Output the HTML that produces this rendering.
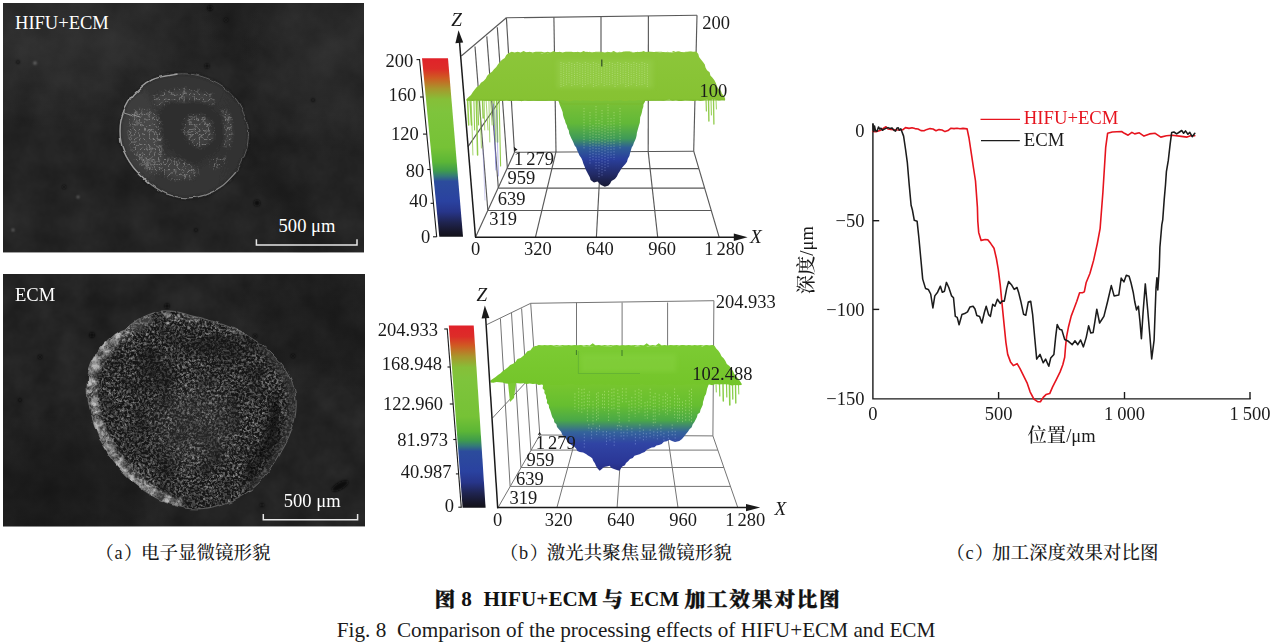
<!DOCTYPE html>
<html lang="zh"><head><meta charset="utf-8"><title>Fig. 8</title>
<style>
html,body{margin:0;padding:0;background:#fff;}
body{width:1274px;height:643px;overflow:hidden;position:relative;}
svg{position:absolute;left:0;top:0;display:block;font-family:'Liberation Serif','Noto Serif CJK SC',serif;}
text{white-space:pre;}
</style></head><body>
<svg width="1274" height="643" viewBox="0 0 1274 643">
<defs>

<filter id="bgNoise" x="0" y="0" width="100%" height="100%" color-interpolation-filters="sRGB">
  <feTurbulence type="fractalNoise" baseFrequency="0.03" numOctaves="4" seed="3" result="n"/>
  <feColorMatrix in="n" type="matrix" values="0.08 0 0 0 0.10  0.08 0 0 0 0.10  0.08 0 0 0 0.10  0 0 0 0 1"/>
  <feComposite operator="in" in2="SourceGraphic"/>
</filter>
<filter id="bgNoise2" x="0" y="0" width="100%" height="100%" color-interpolation-filters="sRGB">
  <feTurbulence type="fractalNoise" baseFrequency="0.035" numOctaves="4" seed="14" result="n"/>
  <feColorMatrix in="n" type="matrix" values="0.08 0 0 0 0.098  0.08 0 0 0 0.098  0.08 0 0 0 0.098  0 0 0 0 1"/>
  <feComposite operator="in" in2="SourceGraphic"/>
</filter>
<!-- bright wiggly veins confined to the source shape -->
<filter id="veins" x="-5%" y="-5%" width="110%" height="110%" color-interpolation-filters="sRGB">
  <feTurbulence type="turbulence" baseFrequency="0.2" numOctaves="2" seed="7" result="n"/>
  <feColorMatrix in="n" type="matrix" values="0 0 0 0 0.66  0 0 0 0 0.66  0 0 0 0 0.66  -5 0 0 0 1.0" result="v"/>
  <feGaussianBlur in="SourceGraphic" stdDeviation="1.6" result="soft"/>
  <feComposite in="v" in2="soft" operator="in"/>
</filter>
<!-- rough texture for the ECM crater -->
<filter id="rough2" x="0" y="0" width="100%" height="100%" color-interpolation-filters="sRGB">
  <feTurbulence type="fractalNoise" baseFrequency="0.40" numOctaves="2" seed="21" result="n"/>
  <feColorMatrix in="n" type="matrix" values="0.9 0 0 0 -0.375  0.9 0 0 0 -0.375  0.9 0 0 0 -0.375  0 0 0 0 1" result="g"/>
  <feTurbulence type="fractalNoise" baseFrequency="0.045" numOctaves="2" seed="5" result="c"/>
  <feColorMatrix in="c" type="matrix" values="2.2 0 0 0 -0.35  2.2 0 0 0 -0.35  2.2 0 0 0 -0.35  0 0 0 0 1" result="cm"/>
  <feComposite in="g" in2="cm" operator="arithmetic" k1="1.0" k2="0.35" k3="0" k4="0.095" result="m"/>
  <feComposite in="m" in2="SourceGraphic" operator="in"/>
</filter>
<filter id="veins2" x="0" y="0" width="100%" height="100%" color-interpolation-filters="sRGB">
  <feTurbulence type="turbulence" baseFrequency="0.2" numOctaves="2" seed="33" result="n"/>
  <feColorMatrix in="n" type="matrix" values="0 0 0 0 0.85  0 0 0 0 0.85  0 0 0 0 0.85  -8 0 0 0 1.0" result="v"/>
  <feComposite in="v" in2="SourceGraphic" operator="in"/>
</filter>
<filter id="wobble1" x="-5%" y="-5%" width="110%" height="110%">
  <feTurbulence type="fractalNoise" baseFrequency="0.09" numOctaves="2" seed="12" result="w"/>
  <feDisplacementMap in="SourceGraphic" in2="w" scale="3.5" xChannelSelector="R" yChannelSelector="G"/>
</filter>
<filter id="wobble" x="-5%" y="-5%" width="110%" height="110%">
  <feTurbulence type="fractalNoise" baseFrequency="0.07" numOctaves="2" seed="4" result="w"/>
  <feDisplacementMap in="SourceGraphic" in2="w" scale="5" xChannelSelector="R" yChannelSelector="G"/>
</filter>
<filter id="rimtex" x="-5%" y="-5%" width="110%" height="110%" color-interpolation-filters="sRGB">
  <feTurbulence type="fractalNoise" baseFrequency="0.14" numOctaves="3" seed="9" result="n"/>
  <feColorMatrix in="n" type="matrix" values="0 0 0 0 0.85  0 0 0 0 0.85  0 0 0 0 0.85  3.2 0 0 0 -1.25" result="v"/>
  <feGaussianBlur in="SourceGraphic" stdDeviation="1.5" result="soft"/>
  <feComposite in="v" in2="soft" operator="in"/>
</filter>
<filter id="blur2"><feGaussianBlur stdDeviation="2"/></filter>
<filter id="blur3"><feGaussianBlur stdDeviation="3"/></filter>
<filter id="blur4"><feGaussianBlur stdDeviation="4"/></filter>
<filter id="blur8" x="-30%" y="-30%" width="160%" height="160%"><feGaussianBlur stdDeviation="9"/></filter>
<filter id="blur1"><feGaussianBlur stdDeviation="0.8"/></filter>
<filter id="blur05"><feGaussianBlur stdDeviation="0.5"/></filter>

<linearGradient id="cbar" x1="0" y1="0" x2="0" y2="1">
  <stop offset="0" stop-color="#e0222a"/>
  <stop offset="0.06" stop-color="#dd2c28"/>
  <stop offset="0.11" stop-color="#cf5a22"/>
  <stop offset="0.17" stop-color="#a8962c"/>
  <stop offset="0.23" stop-color="#86bf38"/>
  <stop offset="0.30" stop-color="#7ec43c"/>
  <stop offset="0.50" stop-color="#76c236"/>
  <stop offset="0.58" stop-color="#5cb636"/>
  <stop offset="0.63" stop-color="#3f9c4c"/>
  <stop offset="0.66" stop-color="#347a78"/>
  <stop offset="0.69" stop-color="#2c4c9c"/>
  <stop offset="0.80" stop-color="#2a42a0"/>
  <stop offset="0.86" stop-color="#27358a"/>
  <stop offset="0.92" stop-color="#1f2450"/>
  <stop offset="0.97" stop-color="#17172a"/>
  <stop offset="1" stop-color="#121218"/>
</linearGradient>
<linearGradient id="pit1" gradientUnits="userSpaceOnUse" x1="0" y1="98" x2="0" y2="188">
  <stop offset="0" stop-color="#7fc236"/>
  <stop offset="0.28" stop-color="#62b838"/>
  <stop offset="0.45" stop-color="#3f9a58"/>
  <stop offset="0.55" stop-color="#2f5e96"/>
  <stop offset="0.68" stop-color="#2a3f9c"/>
  <stop offset="0.85" stop-color="#222a66"/>
  <stop offset="1" stop-color="#16172c"/>
</linearGradient>
<linearGradient id="pit2" gradientUnits="userSpaceOnUse" x1="0" y1="383" x2="0" y2="472">
  <stop offset="0" stop-color="#78c62e"/>
  <stop offset="0.25" stop-color="#66be30"/>
  <stop offset="0.42" stop-color="#4aa848"/>
  <stop offset="0.55" stop-color="#34649a"/>
  <stop offset="0.68" stop-color="#3044a4"/>
  <stop offset="0.9" stop-color="#2a3696"/>
  <stop offset="1" stop-color="#252c7c"/>
</linearGradient>
<linearGradient id="surf1" gradientUnits="userSpaceOnUse" x1="0" y1="51" x2="0" y2="101">
  <stop offset="0" stop-color="#8cc63a"/>
  <stop offset="1" stop-color="#86c232"/>
</linearGradient>
<linearGradient id="surf2" gradientUnits="userSpaceOnUse" x1="0" y1="345" x2="0" y2="385">
  <stop offset="0" stop-color="#7ccb33"/>
  <stop offset="1" stop-color="#74c52a"/>
</linearGradient>
<radialGradient id="darkR"><stop offset="0" stop-color="#101010" stop-opacity="0.55"/><stop offset="0.5" stop-color="#101010" stop-opacity="0.3"/><stop offset="1" stop-color="#101010" stop-opacity="0"/></radialGradient>
<radialGradient id="liteR"><stop offset="0" stop-color="#4a4a4a" stop-opacity="0.4"/><stop offset="0.5" stop-color="#4a4a4a" stop-opacity="0.2"/><stop offset="1" stop-color="#4a4a4a" stop-opacity="0"/></radialGradient>
<clipPath id="sem1"><rect x="3" y="3" width="361" height="249.5"/></clipPath>
<clipPath id="sem2"><rect x="3" y="274" width="362" height="252.5"/></clipPath>
<clipPath id="blob2c"><path d="M155.6,312 C168,309 180,312 190,315.4 C206,319 221,323 234.3,329 C252,337 268,348 279,361.6 C289,374 295,386 296,399 C297.5,418 291,436 282,450.6 C275,464 266,477 255,486.6 C240,499 220,507 200,508.8 C178,510 156,500 138.5,486.6 C124,475 112,462 104,447 C94,428 87,406 87,385.6 C87,364 98,348 110,338 C116,332 120,331 124.8,329 C134,321 144,315 155.6,312 Z"/></clipPath><clipPath id="circ1c"><path d="M177.6,74.0 C185.6,73.4 192.6,74.0 200.0,76.0 C207.4,78.0 215.7,81.4 222.0,85.7 C228.3,90.0 233.7,95.4 238.0,102.0 C242.3,108.6 245.9,119.0 247.6,125.3 C249.3,131.6 248.4,135.3 248.0,140.0 C247.6,144.7 247.3,148.0 245.3,153.3 C243.3,158.6 239.9,166.6 236.0,172.0 C232.1,177.4 227.2,182.2 222.0,186.0 C216.8,189.8 210.8,193.0 205.0,195.0 C199.2,197.0 193.3,198.0 187.0,197.8 C180.7,197.6 173.2,196.4 167.0,194.0 C160.8,191.6 155.4,188.1 149.7,183.6 C144.0,179.1 137.6,173.2 133.0,167.0 C128.4,160.8 124.1,153.2 122.0,146.3 C119.9,139.4 119.8,131.7 120.3,125.3 C120.8,118.9 122.8,113.0 125.0,108.0 C127.2,103.0 128.8,99.7 133.3,95.0 C137.8,90.3 144.6,83.3 152.0,79.8 C159.4,76.3 169.6,74.6 177.6,74.0 Z"/></clipPath></defs>

<g clip-path="url(#sem1)">
  <rect x="3" y="3" width="361" height="249.5" fill="#292929"/>
  <rect x="3" y="3" width="361" height="249.5" filter="url(#bgNoise)"/>
  <!-- large soft shading -->
  <ellipse cx="70" cy="40" rx="150" ry="90" fill="url(#liteR)" opacity="0.8"/>
  <ellipse cx="288" cy="200" rx="26" ry="85" fill="url(#darkR)" opacity="0.85" transform="rotate(-24 288 200)"/>
  <ellipse cx="232" cy="22" rx="30" ry="45" fill="url(#darkR)" opacity="0.5" transform="rotate(-24 232 22)"/>
  <ellipse cx="330" cy="60" rx="90" ry="100" fill="url(#liteR)" opacity="0.6"/>
  <!-- crater -->
  <g filter="url(#wobble1)">
  <path d="M177.6,74.0 C185.6,73.4 192.6,74.0 200.0,76.0 C207.4,78.0 215.7,81.4 222.0,85.7 C228.3,90.0 233.7,95.4 238.0,102.0 C242.3,108.6 245.9,119.0 247.6,125.3 C249.3,131.6 248.4,135.3 248.0,140.0 C247.6,144.7 247.3,148.0 245.3,153.3 C243.3,158.6 239.9,166.6 236.0,172.0 C232.1,177.4 227.2,182.2 222.0,186.0 C216.8,189.8 210.8,193.0 205.0,195.0 C199.2,197.0 193.3,198.0 187.0,197.8 C180.7,197.6 173.2,196.4 167.0,194.0 C160.8,191.6 155.4,188.1 149.7,183.6 C144.0,179.1 137.6,173.2 133.0,167.0 C128.4,160.8 124.1,153.2 122.0,146.3 C119.9,139.4 119.8,131.7 120.3,125.3 C120.8,118.9 122.8,113.0 125.0,108.0 C127.2,103.0 128.8,99.7 133.3,95.0 C137.8,90.3 144.6,83.3 152.0,79.8 C159.4,76.3 169.6,74.6 177.6,74.0 Z" fill="#353535"/>
  <g clip-path="url(#circ1c)">
    <ellipse cx="138" cy="140" rx="22" ry="52" fill="#444" opacity="0.55" filter="url(#blur4)"/>
    <ellipse cx="236" cy="140" rx="14" ry="50" fill="#333" opacity="0.6" filter="url(#blur4)"/>
    <!-- darker inner C region -->
    <path d="M162,104 C172,96 196,96 210,104 C222,110 226,124 224,140 C222,152 214,160 204,160 C196,170 184,168 178,158 C166,150 158,136 158,122 C158,114 158,108 162,104 Z" fill="#2a2a2a" opacity="0.55" filter="url(#blur2)"/>
    <!-- debris masses (soft grey) -->
    <g fill="#505050" opacity="0.55" filter="url(#blur2)">
      <path d="M154,98 C168,88 198,88 213,98 L212,105 C198,98 170,98 158,108 Z"/>
      <path d="M132,114 C140,108 154,110 158,120 C162,132 158,146 164,158 C168,168 160,176 150,170 C138,162 130,146 130,130 Z"/>
      <path d="M162,162 C172,158 190,162 198,170 C196,180 176,182 166,175 Z"/>
      <path d="M186,122 C192,114 206,114 211,123 C214,134 211,144 202,146 C191,146 183,136 186,122 Z"/>
      <path d="M222,112 L228,112 C233,122 233,138 229,147 L223,145 C226,134 225,122 222,112 Z"/>
    </g>
    <!-- debris, rendered as bright wiggly veins -->
    <g opacity="0.55" filter="url(#blur05)">
      <path d="M152,96 C168,86 200,86 214,96 L214,106 C200,98 168,98 156,110 Z" filter="url(#veins)"/>
      <path d="M130,112 C140,106 156,108 160,118 C164,132 160,146 166,158 C170,170 160,178 148,172 C136,164 128,146 128,130 Z" filter="url(#veins)"/>
      <path d="M160,160 C172,156 190,160 200,170 C198,182 176,184 164,176 Z" filter="url(#veins)"/>
      <path d="M184,120 C190,112 206,112 212,122 C216,134 212,146 202,148 C190,148 180,136 184,120 Z" filter="url(#veins)"/>
      <path d="M220,110 L228,110 C234,122 234,138 230,148 L222,146 C226,134 224,122 220,110 Z" filter="url(#veins)"/>
      <path d="M210,160 L224,156 L226,164 L212,170 Z" filter="url(#veins)"/>
    </g>
  </g>
  <!-- rim -->
  <path d="M177.6,74.0 C185.6,73.4 192.6,74.0 200.0,76.0 C207.4,78.0 215.7,81.4 222.0,85.7 C228.3,90.0 233.7,95.4 238.0,102.0 C242.3,108.6 245.9,119.0 247.6,125.3 C249.3,131.6 248.4,135.3 248.0,140.0 C247.6,144.7 247.3,148.0 245.3,153.3 C243.3,158.6 239.9,166.6 236.0,172.0 C232.1,177.4 227.2,182.2 222.0,186.0 C216.8,189.8 210.8,193.0 205.0,195.0 C199.2,197.0 193.3,198.0 187.0,197.8 C180.7,197.6 173.2,196.4 167.0,194.0 C160.8,191.6 155.4,188.1 149.7,183.6 C144.0,179.1 137.6,173.2 133.0,167.0 C128.4,160.8 124.1,153.2 122.0,146.3 C119.9,139.4 119.8,131.7 120.3,125.3 C120.8,118.9 122.8,113.0 125.0,108.0 C127.2,103.0 128.8,99.7 133.3,95.0 C137.8,90.3 144.6,83.3 152.0,79.8 C159.4,76.3 169.6,74.6 177.6,74.0 Z" fill="none" stroke="#1c1c1c" stroke-width="3" opacity="0.35" filter="url(#blur1)"/>
  <path d="M177.6,74.0 C185.6,73.4 192.6,74.0 200.0,76.0 C207.4,78.0 215.7,81.4 222.0,85.7 C228.3,90.0 233.7,95.4 238.0,102.0 C242.3,108.6 245.9,119.0 247.6,125.3 C249.3,131.6 248.4,135.3 248.0,140.0 C247.6,144.7 247.3,148.0 245.3,153.3 C243.3,158.6 239.9,166.6 236.0,172.0 C232.1,177.4 227.2,182.2 222.0,186.0 C216.8,189.8 210.8,193.0 205.0,195.0 C199.2,197.0 193.3,198.0 187.0,197.8 C180.7,197.6 173.2,196.4 167.0,194.0 C160.8,191.6 155.4,188.1 149.7,183.6 C144.0,179.1 137.6,173.2 133.0,167.0 C128.4,160.8 124.1,153.2 122.0,146.3 C119.9,139.4 119.8,131.7 120.3,125.3 C120.8,118.9 122.8,113.0 125.0,108.0 C127.2,103.0 128.8,99.7 133.3,95.0 C137.8,90.3 144.6,83.3 152.0,79.8 C159.4,76.3 169.6,74.6 177.6,74.0 Z" fill="none" stroke="#5c5c5c" stroke-width="1"/>
  <path d="M177.6,74.0 C173.3,75.0 159.4,76.3 152.0,79.8 C144.6,83.3 137.8,90.3 133.3,95.0 C128.8,99.7 127.2,103.0 125.0,108.0 C122.8,113.0 120.8,118.9 120.3,125.3 C119.8,131.7 119.9,139.4 122.0,146.3 C124.1,153.2 128.4,160.8 133.0,167.0 C137.6,173.2 146.9,180.8 149.7,183.6 " fill="none" stroke="#9c9c9c" stroke-width="1.3" filter="url(#blur05)"/>
  <path d="M149.7,183.6 C152.6,185.3 160.8,191.6 167.0,194.0 C173.2,196.4 180.7,197.6 187.0,197.8 C193.3,198.0 199.2,197.0 205.0,195.0 C210.8,193.0 216.8,189.8 222.0,186.0 C227.2,182.2 233.7,174.3 236.0,172.0 " fill="none" stroke="#848484" stroke-width="1.1" filter="url(#blur05)"/>
  <path d="M124,112 L140,117" stroke="#aaa" stroke-width="0.8" fill="none"/>
  </g>
  <!-- specks -->
  <g fill="#111" filter="url(#blur1)">
    <circle cx="207" cy="66" r="2.2"/><circle cx="257" cy="203" r="3"/><circle cx="64" cy="187" r="1.8"/>
    <circle cx="196" cy="230" r="1.6"/><circle cx="313" cy="100" r="1.6"/><circle cx="18" cy="62" r="1.6"/>
    <circle cx="210" cy="8" r="2.5"/><circle cx="226" cy="20" r="1.8"/>
  </g>
  <g fill="#777" filter="url(#blur1)">
    <circle cx="35" cy="63" r="1.6"/><circle cx="78" cy="197" r="1.2"/><circle cx="13" cy="230" r="1.3"/>
  </g>
</g>

<path d="M256.4,239.2 V245 H357 V239.2" fill="none" stroke="#e6e6e6" stroke-width="1.5"/>
<text x="15" y="29.2" font-size="18.55" fill="#fff">HIFU+ECM</text>
<text x="278.6" y="232" font-size="18.55" fill="#fff">500 μm</text>

<g clip-path="url(#sem2)">
  <rect x="3" y="274" width="362" height="252.5" fill="#272727"/>
  <rect x="3" y="274" width="362" height="252.5" filter="url(#bgNoise2)"/>
  <ellipse cx="50" cy="490" rx="130" ry="80" fill="url(#darkR)"/>
  <ellipse cx="330" cy="320" rx="100" ry="75" fill="url(#darkR)" opacity="0.7"/>
  <g filter="url(#wobble)">
  <path d="M155.6,312 C168,309 180,312 190,315.4 C206,319 221,323 234.3,329 C252,337 268,348 279,361.6 C289,374 295,386 296,399 C297.5,418 291,436 282,450.6 C275,464 266,477 255,486.6 C240,499 220,507 200,508.8 C178,510 156,500 138.5,486.6 C124,475 112,462 104,447 C94,428 87,406 87,385.6 C87,364 98,348 110,338 C116,332 120,331 124.8,329 C134,321 144,315 155.6,312 Z" fill="#2b2b2b"/>
  <g clip-path="url(#blob2c)">
    <path d="M155.6,312 C168,309 180,312 190,315.4 C206,319 221,323 234.3,329 C252,337 268,348 279,361.6 C289,374 295,386 296,399 C297.5,418 291,436 282,450.6 C275,464 266,477 255,486.6 C240,499 220,507 200,508.8 C178,510 156,500 138.5,486.6 C124,475 112,462 104,447 C94,428 87,406 87,385.6 C87,364 98,348 110,338 C116,332 120,331 124.8,329 C134,321 144,315 155.6,312 Z" filter="url(#rough2)"/>
    <path d="M155.6,312 C168,309 180,312 190,315.4 C206,319 221,323 234.3,329 C252,337 268,348 279,361.6 C289,374 295,386 296,399 C297.5,418 291,436 282,450.6 C275,464 266,477 255,486.6 C240,499 220,507 200,508.8 C178,510 156,500 138.5,486.6 C124,475 112,462 104,447 C94,428 87,406 87,385.6 C87,364 98,348 110,338 C116,332 120,331 124.8,329 C134,321 144,315 155.6,312 Z" filter="url(#veins2)" opacity="0.13"/>
    <!-- right inner wall: smooth band + dark crescent -->
    <path d="M262,345 C284,366 294,388 293,408 C291,436 276,466 250,490" fill="none" stroke="#3a3a3a" stroke-width="10" opacity="0.55" filter="url(#blur2)"/>
    <path d="M276,396 C278,420 268,452 246,478" fill="none" stroke="#0c0c0c" stroke-width="13" opacity="0.6" filter="url(#blur3)"/>
    <!-- bright left rim -->
    <path d="M150,314 C112,332 87,360 87,386 C87,406 94,428 104,447 C112,462 124,475 138.5,486.6 C150,496 165,504 182,508" fill="none" stroke="#c8c8c8" stroke-width="17" opacity="0.22" filter="url(#blur2)"/>
    <path d="M128,326 C100,346 90,366 90,386 C90,406 97,428 107,446 C115,461 127,474 141,485 C152,494 166,501 180,505" fill="none" stroke="#fff" stroke-width="13" filter="url(#rimtex)" opacity="0.75"/>
    <path d="M160,314 C190,314 220,322 246,336" fill="none" stroke="#fff" stroke-width="8" filter="url(#rimtex)" opacity="0.4"/>
    <!-- dark regions -->
    <ellipse cx="150" cy="368" rx="14" ry="28" fill="#141414" opacity="0.40" filter="url(#blur4)"/>
    <ellipse cx="225" cy="348" rx="40" ry="12" fill="#141414" opacity="0.35" filter="url(#blur4)"/>
    <ellipse cx="195" cy="425" rx="38" ry="40" fill="#5a5a5a" opacity="0.20" filter="url(#blur8)"/>
  </g>
  <path d="M155.6,312 C168,309 180,312 190,315.4 C206,319 221,323 234.3,329 C252,337 268,348 279,361.6 C289,374 295,386 296,399 C297.5,418 291,436 282,450.6 C275,464 266,477 255,486.6 C240,499 220,507 200,508.8 C178,510 156,500 138.5,486.6 C124,475 112,462 104,447 C94,428 87,406 87,385.6 C87,364 98,348 110,338 C116,332 120,331 124.8,329 C134,321 144,315 155.6,312 Z" fill="none" stroke="#8a8a8a" stroke-width="0.8" opacity="0.7"/>
  </g>
  <g fill="#0c0c0c" filter="url(#blur1)">
    <circle cx="167" cy="306" r="2.5"/><circle cx="92" cy="335" r="2.6"/><circle cx="40" cy="357" r="2"/>
    <circle cx="255" cy="336" r="2"/><circle cx="293" cy="356" r="2"/><circle cx="20" cy="400" r="1.6"/>
    <ellipse cx="340" cy="486" rx="9" ry="3.5" transform="rotate(-30 340 486)"/>
    <circle cx="262" cy="505" r="1.8"/>
  </g>
</g>
<path d="M263.3,514 V519.8 H357.6 V514" fill="none" stroke="#e6e6e6" stroke-width="1.5"/>
<text x="15" y="300.9" font-size="18.55" fill="#fff">ECM</text>
<text x="283.8" y="507" font-size="18.55" fill="#fff">500 μm</text>
<g id="plot3d-1">
<g fill="none">
<line x1="461.3" y1="56" x2="506.4" y2="17.8" stroke="#585858" stroke-width="1.15"/>
<line x1="475" y1="46.5" x2="487.8" y2="210" stroke="#585858" stroke-width="1.15"/>
<line x1="486.8" y1="36.4" x2="498.3" y2="187.7" stroke="#585858" stroke-width="1.15"/>
<line x1="497.3" y1="27.3" x2="507.4" y2="168.5" stroke="#585858" stroke-width="1.15"/>
<line x1="506.4" y1="17.8" x2="514.5" y2="152.3" stroke="#585858" stroke-width="1.15"/>
<line x1="468" y1="146.6" x2="510.5" y2="85" stroke="#585858" stroke-width="1.15"/>
<line x1="506.4" y1="17.8" x2="697" y2="15.2" stroke="#585858" stroke-width="1.15"/>
<line x1="553.9" y1="17.2" x2="556" y2="151.9" stroke="#585858" stroke-width="1.15"/>
<line x1="601" y1="16.5" x2="601" y2="151.7" stroke="#585858" stroke-width="1.15"/>
<line x1="648.4" y1="15.9" x2="648.2" y2="151.4" stroke="#585858" stroke-width="1.15"/>
<line x1="697" y1="15.2" x2="693.7" y2="151.2" stroke="#585858" stroke-width="1.15"/>
<line x1="514.5" y1="152.3" x2="693.7" y2="151.2" stroke="#585858" stroke-width="1.15"/>
<line x1="475.5" y1="237.3" x2="514.5" y2="152.3" stroke="#585858" stroke-width="1.15"/>
<line x1="693.7" y1="151.2" x2="719.2" y2="237.3" stroke="#585858" stroke-width="1.15"/>
<line x1="507.4" y1="168.6" x2="698.9" y2="168.6" stroke="#585858" stroke-width="1.15"/>
<line x1="498.3" y1="188.1" x2="704.6" y2="188.1" stroke="#585858" stroke-width="1.15"/>
<line x1="487.8" y1="210.5" x2="711.3" y2="210.5" stroke="#585858" stroke-width="1.15"/>
<line x1="556" y1="151.6" x2="535.4" y2="237.3" stroke="#585858" stroke-width="1.15"/>
<line x1="601" y1="151.6" x2="596.4" y2="237.3" stroke="#585858" stroke-width="1.15"/>
<line x1="648.2" y1="151.6" x2="657.7" y2="237.3" stroke="#585858" stroke-width="1.15"/>
</g>
<g stroke-linecap="round" fill="none">
<line x1="467.6" y1="100" x2="468.7" y2="125" stroke="#86c63a" stroke-width="1.5" opacity="0.9"/><line x1="470.0" y1="100" x2="471.5" y2="125" stroke="#86c63a" stroke-width="1.5" opacity="0.9"/><line x1="471.2" y1="100" x2="472.9" y2="155" stroke="#86c63a" stroke-width="0.8" opacity="0.9"/><line x1="473.9" y1="100" x2="474.6" y2="130" stroke="#86c63a" stroke-width="1.1" opacity="0.9"/><line x1="476.3" y1="100" x2="477.6" y2="155" stroke="#86c63a" stroke-width="1.5" opacity="0.9"/><line x1="477.7" y1="100" x2="478.6" y2="125" stroke="#86c63a" stroke-width="1.1" opacity="0.9"/><line x1="479.8" y1="100" x2="481.4" y2="148" stroke="#86c63a" stroke-width="0.8" opacity="0.9"/><line x1="482.5" y1="100" x2="483.2" y2="118" stroke="#86c63a" stroke-width="1.5" opacity="0.9"/><line x1="484.2" y1="100" x2="484.7" y2="130" stroke="#86c63a" stroke-width="0.8" opacity="0.9"/><line x1="486.1" y1="100" x2="488.0" y2="130" stroke="#86c63a" stroke-width="0.8" opacity="0.9"/><line x1="488.9" y1="100" x2="489.8" y2="142" stroke="#86c63a" stroke-width="0.8" opacity="0.9"/><line x1="490.6" y1="100" x2="492.1" y2="125" stroke="#86c63a" stroke-width="0.8" opacity="0.9"/><line x1="493.1" y1="100" x2="493.9" y2="125" stroke="#86c63a" stroke-width="1.1" opacity="0.9"/><line x1="494.6" y1="100" x2="495.7" y2="142" stroke="#86c63a" stroke-width="0.8" opacity="0.9"/><line x1="496.7" y1="100" x2="497.6" y2="142" stroke="#86c63a" stroke-width="1.5" opacity="0.9"/><line x1="499.1" y1="100" x2="500.6" y2="166" stroke="#86c63a" stroke-width="1.1" opacity="0.9"/>
<line x1="493.5" y1="104" x2="496" y2="170" stroke="#6f6fd0" stroke-width="0.9" opacity="0.8"/>
<line x1="496.5" y1="110" x2="498.5" y2="176" stroke="#7a78d8" stroke-width="0.8" opacity="0.7"/>
<line x1="483" y1="150" x2="485" y2="200" stroke="#8c8ae0" stroke-width="0.7" opacity="0.6"/>
<line x1="706" y1="99" x2="706.4" y2="111" stroke="#86c63a" stroke-width="1.2" opacity="0.9"/>
<line x1="708.5" y1="99" x2="708.9" y2="121" stroke="#86c63a" stroke-width="1.4" opacity="0.9"/>
<line x1="711" y1="99" x2="711.4" y2="115" stroke="#86c63a" stroke-width="1.0" opacity="0.9"/>
<line x1="713.5" y1="99" x2="713.9" y2="124" stroke="#86c63a" stroke-width="1.3" opacity="0.9"/>
<line x1="716" y1="99" x2="716.4" y2="109" stroke="#86c63a" stroke-width="0.9" opacity="0.9"/>
</g>
<polygon points="558.3,99.0 558.8,101.7 559.6,104.4 560.7,107.0 561.7,109.6 562.7,112.2 563.0,115.0 563.8,117.7 564.9,120.2 565.6,122.9 566.9,125.4 567.4,128.1 568.8,130.6 569.2,133.4 570.3,136.0 571.4,138.5 572.6,140.8 573.6,143.1 574.6,145.5 576.2,147.6 577.0,150.0 578.3,152.7 579.5,155.5 581.3,157.9 582.5,160.7 583.3,163.6 584.6,166.4 585.6,169.3 587.0,172.0 588.3,174.6 589.8,177.2 590.6,180.0 594.0,182.5 597.5,181.5 601.0,185.0 604.8,186.8 608.5,185.5 610.2,183.4 611.5,181.0 614.9,178.9 616.9,176.4 618.3,173.6 620.0,171.0 621.4,168.4 623.3,166.2 625.4,164.1 627.0,161.7 627.8,158.7 629.4,156.0 630.1,153.0 631.0,150.0 631.7,147.5 633.1,145.3 633.9,142.8 635.0,140.5 636.0,138.0 636.6,135.5 636.9,132.8 637.6,130.3 638.3,127.7 639.0,125.2 639.8,122.7 640.0,120.0 640.2,117.3 641.2,114.7 642.0,112.1 642.4,109.5 643.3,106.9 643.5,104.2 644.9,101.7 645.2,99.0 642.6,99.0 640.1,99.4 637.5,98.8 635.0,99.2 632.4,99.3 629.9,99.0 627.3,99.4 624.8,99.3 622.2,98.6 619.6,98.8 617.1,99.5 614.5,98.7 612.0,99.5 609.4,99.2 606.9,98.6 604.3,98.9 601.8,99.2 599.2,99.1 596.6,99.1 594.1,99.4 591.5,98.5 589.0,99.4 586.4,99.1 583.9,98.8 581.3,99.1 578.7,98.5 576.2,99.3 573.6,98.5 571.1,98.6 568.5,98.8 566.0,98.6 563.4,99.1 560.9,98.7" fill="url(#pit1)"/>
<linearGradient id="dots1" gradientUnits="userSpaceOnUse" x1="0" y1="100" x2="0" y2="185"><stop offset="0" stop-color="#d4f0a0"/><stop offset="0.5" stop-color="#c8eaa0"/><stop offset="0.62" stop-color="#9db4ec"/><stop offset="1" stop-color="#8a96e0"/></linearGradient>
<g stroke="url(#dots1)" stroke-width="0.75" stroke-dasharray="1.2 1.6" opacity="0.6">
<line x1="584" y1="108" x2="584" y2="150"/>
<line x1="590" y1="112" x2="590" y2="165"/>
<line x1="596" y1="106" x2="596" y2="170"/>
<line x1="602" y1="110" x2="602" y2="176"/>
<line x1="608" y1="104" x2="608" y2="168"/>
<line x1="614" y1="112" x2="614" y2="160"/>
<line x1="620" y1="108" x2="620" y2="150"/>
<line x1="599" y1="120" x2="599" y2="178"/>
<line x1="605" y1="125" x2="605" y2="172"/>
<line x1="611" y1="118" x2="611" y2="158"/>
<line x1="593" y1="125" x2="593" y2="160"/>
</g>
<polygon points="508.6,53.0 511.6,52.6 514.7,53.0 517.7,52.7 520.7,53.0 523.7,53.1 526.8,52.2 529.8,52.1 532.8,53.3 535.8,52.4 538.9,52.4 541.9,53.4 544.9,52.7 548.0,53.2 551.0,52.6 554.0,52.8 557.0,52.1 560.1,52.8 563.1,53.1 566.1,52.6 569.2,52.9 572.2,52.7 575.2,51.9 578.2,52.8 581.3,52.5 584.3,52.1 587.3,51.7 590.3,52.9 593.4,52.3 596.4,52.6 599.4,52.8 602.5,52.5 605.5,52.8 608.5,52.1 611.5,52.6 614.6,52.1 617.6,52.7 620.6,52.6 623.6,51.5 626.7,51.5 629.7,51.6 632.7,52.7 635.8,51.9 638.8,52.1 641.8,51.7 644.8,51.9 647.9,51.7 650.9,51.7 653.9,52.0 656.9,51.9 660.0,52.4 663.0,52.0 666.0,52.3 669.1,52.2 672.1,52.4 675.1,51.9 678.1,51.2 681.2,52.1 684.2,52.2 687.2,52.1 690.2,51.6 693.3,51.8 696.3,51.5 698.3,53.9 699.1,57.0 701.0,59.5 703.0,61.9 704.8,64.4 705.5,67.6 707.0,70.3 709.6,72.3 710.4,75.5 712.5,77.8 714.4,80.3 715.8,83.0 716.9,86.0 718.3,88.7 720.9,90.8 721.9,93.8 724.1,96.0 725.2,99.0 725.0,100.2 721.9,99.9 718.8,100.5 715.8,99.7 712.7,99.6 709.6,100.3 706.5,99.6 703.5,100.6 700.4,100.9 697.3,100.2 694.2,101.0 691.2,100.8 688.1,100.5 685.0,100.2 681.9,100.9 678.8,101.1 675.8,99.9 672.7,100.7 669.6,99.8 666.5,99.9 663.5,100.7 660.4,100.6 657.3,100.5 654.2,100.4 651.2,100.4 648.1,100.5 645.0,100.6 641.9,100.4 638.8,100.0 635.7,100.6 632.6,100.7 629.5,100.3 626.4,101.0 623.3,100.9 620.2,99.9 617.1,100.6 614.0,100.5 610.9,101.3 607.8,100.7 604.7,100.5 601.6,101.3 598.6,100.4 595.5,100.4 592.4,101.2 589.3,100.4 586.2,100.6 583.1,100.3 580.0,100.8 576.9,100.3 573.8,100.3 570.7,101.3 567.6,101.2 564.5,100.4 561.4,100.0 558.3,100.6 555.2,100.9 552.2,100.6 549.1,100.5 546.1,100.8 543.0,100.8 540.0,100.8 536.9,100.7 533.8,100.4 530.8,100.8 527.7,100.7 524.7,100.1 521.6,101.2 518.6,100.4 515.5,100.2 512.4,100.8 509.4,100.9 506.3,100.1 503.3,100.8 500.2,100.9 497.2,100.6 494.1,100.2 491.1,101.0 488.0,100.7 484.9,100.7 481.9,100.0 478.8,100.5 475.8,99.9 472.7,100.9 469.7,100.6 466.6,100.4 466.4,99.2 468.7,97.0 471.0,94.9 472.7,92.2 474.6,89.7 476.6,87.3 479.1,85.4 480.9,82.7 483.6,81.0 485.7,78.7 487.2,75.8 489.4,73.6 492.0,71.8 494.0,69.3 496.3,67.1 497.9,64.4 499.8,61.9 502.1,59.7 504.7,57.9 506.3,55.1" fill="url(#surf1)"/>
<path d="M508.6,53.5 L511.6,51.7 L514.6,52.6 L517.6,51.7 L520.6,52.6 L523.6,50.9 L526.6,52.6 L529.6,51.7 L532.6,52.6 L535.6,51.7 L538.6,51.8 L541.6,51.7 L544.6,52.6 L547.6,51.7 L550.6,52.6 L553.6,50.9 L556.6,52.6 L559.6,51.7 L562.6,52.6 L565.6,51.7 L568.6,51.8 L571.6,51.7 L574.6,52.6 L577.6,51.7 L580.6,52.6 L583.6,50.9 L586.6,52.6 L589.6,51.7 L592.6,52.6 L595.6,51.7 L598.6,51.8 L601.6,51.7 L604.6,52.6 L607.6,51.7 L610.6,52.6 L613.6,50.9 L616.6,52.6 L619.6,51.7 L622.6,52.6 L625.6,51.7 L628.6,51.8 L631.6,51.7 L634.6,52.6 L637.6,51.7 L640.6,52.6 L643.6,50.9 L646.6,52.6 L649.6,51.7 L652.6,52.6 L655.6,51.7 L658.6,51.8 L661.6,51.7 L664.6,52.6 L667.6,51.7 L670.6,52.6 L673.6,50.9 L676.6,52.6 L679.6,51.7 L682.6,52.6 L685.6,51.7 L688.6,51.8 L691.6,51.7 L694.6,52.6 L696.3,52 Z" fill="#8cc63a"/>
<g opacity="0.55"><rect x="557" y="60" width="96" height="28" fill="#98cf4e" filter="url(#blur2)"/></g>
<g stroke="#e2f6c4" stroke-width="0.65" stroke-dasharray="0.9 1.3" opacity="0.6">
<line x1="561.0" y1="62" x2="561.0" y2="87"/>
<line x1="563.7" y1="63" x2="563.7" y2="86"/>
<line x1="566.4" y1="64" x2="566.4" y2="85"/>
<line x1="569.1" y1="62" x2="569.1" y2="84"/>
<line x1="571.8" y1="63" x2="571.8" y2="87"/>
<line x1="574.5" y1="64" x2="574.5" y2="86"/>
<line x1="577.2" y1="62" x2="577.2" y2="85"/>
<line x1="579.9" y1="63" x2="579.9" y2="84"/>
<line x1="582.6" y1="64" x2="582.6" y2="87"/>
<line x1="585.3" y1="62" x2="585.3" y2="86"/>
<line x1="588.0" y1="63" x2="588.0" y2="85"/>
<line x1="590.7" y1="64" x2="590.7" y2="84"/>
<line x1="593.4" y1="62" x2="593.4" y2="87"/>
<line x1="596.1" y1="63" x2="596.1" y2="86"/>
<line x1="598.8" y1="64" x2="598.8" y2="85"/>
<line x1="601.5" y1="62" x2="601.5" y2="84"/>
<line x1="604.2" y1="63" x2="604.2" y2="87"/>
<line x1="606.9" y1="64" x2="606.9" y2="86"/>
<line x1="609.6" y1="62" x2="609.6" y2="85"/>
<line x1="612.3" y1="63" x2="612.3" y2="84"/>
<line x1="615.0" y1="64" x2="615.0" y2="87"/>
<line x1="617.7" y1="62" x2="617.7" y2="86"/>
<line x1="620.4" y1="63" x2="620.4" y2="85"/>
<line x1="623.1" y1="64" x2="623.1" y2="84"/>
<line x1="625.8" y1="62" x2="625.8" y2="87"/>
<line x1="628.5" y1="63" x2="628.5" y2="86"/>
<line x1="631.2" y1="64" x2="631.2" y2="85"/>
<line x1="633.9" y1="62" x2="633.9" y2="84"/>
<line x1="636.6" y1="63" x2="636.6" y2="87"/>
<line x1="639.3" y1="64" x2="639.3" y2="86"/>
<line x1="642.0" y1="62" x2="642.0" y2="85"/>
<line x1="644.7" y1="63" x2="644.7" y2="84"/>
<line x1="647.4" y1="64" x2="647.4" y2="87"/>
</g>
<path d="M466.6,100.2 L558.3,100.4 L562,104 L642,104 L645,100.4 L725,100 " fill="none" stroke="#79b82c" stroke-width="1.2" opacity="0.8"/>
<rect x="601.2" y="59.5" width="1.2" height="7" fill="#2d4a25"/>
<g stroke="#1a1a1a" fill="#1a1a1a">
<line x1="475.5" y1="237.3" x2="459.5" y2="42" stroke-width="1.5"/>
<polygon points="458.5,30.3 455.4,43.3 463.2,42.6" stroke="none"/>
<line x1="475" y1="237.3" x2="735" y2="237.3" stroke-width="1.5"/>
<polygon points="747.6,237.3 733.8,233.6 733.8,241" stroke="none"/>
</g>
<polygon points="422,58.2 448,58.2 463,236.8 439.3,236.8" fill="url(#cbar)"/>
<g stroke="#1a1a1a" stroke-width="1.1">
<line x1="419.5" y1="59" x2="436.7" y2="237"/>
<line x1="416.5" y1="59.6" x2="419.6" y2="59.6"/>
<line x1="420" y1="97" x2="423.2" y2="97"/>
<line x1="423" y1="134.1" x2="426.8" y2="134.1"/>
<line x1="427.3" y1="169.5" x2="430.3" y2="169.5"/>
<line x1="430.6" y1="203.3" x2="433.6" y2="203.3"/>
<line x1="433" y1="236.8" x2="436.7" y2="236.8"/>
</g>
<g font-size="18.5" fill="#1a1a1a">
<text x="413.3" y="66.5" text-anchor="end">200</text>
<text x="416.3" y="101" text-anchor="end">160</text>
<text x="418.8" y="140.2" text-anchor="end">120</text>
<text x="424.3" y="177.2" text-anchor="end">80</text>
<text x="427.8" y="207.3" text-anchor="end">40</text>
<text x="430.2" y="242.7" text-anchor="end">0</text>
<text x="702.2" y="28.9">200</text><text x="699.4" y="96.6">100</text>
<text x="489.2" y="225.1">319</text>
<text x="497.7" y="204.5">639</text>
<text x="507.4" y="183.7">959</text>
<text x="513.9" y="164.5" word-spacing="-1.5">1 279</text>
<path d="M513.8,146.8 L517.6,149.8 L515.6,150.4 L514.6,152 Z" fill="#1a1a1a"/>
<text x="475.6" y="255.4" text-anchor="middle">0</text>
<text x="537.9" y="255.4" text-anchor="middle">320</text>
<text x="599.9" y="255.4" text-anchor="middle">640</text>
<text x="662.2" y="255.4" text-anchor="middle">960</text>
<text x="724.3" y="255.4" text-anchor="middle" word-spacing="-1.5">1 280</text>
<text x="451.2" y="26" font-style="italic" font-size="19.2">Z</text><text x="750" y="243" font-style="italic" font-size="19.2">X</text>
</g>
</g>
<g id="plot3d-2">
<g fill="none">
<line x1="486.8" y1="324.6" x2="530.7" y2="303.3" stroke="#747474" stroke-width="1.0"/>
<line x1="500.4" y1="318.5" x2="510.1" y2="486.4" stroke="#747474" stroke-width="1.0"/>
<line x1="511.5" y1="313" x2="520.9" y2="467.5" stroke="#747474" stroke-width="1.0"/>
<line x1="521.6" y1="308.4" x2="530.9" y2="450.1" stroke="#747474" stroke-width="1.0"/>
<line x1="530.7" y1="303.3" x2="539.8" y2="435" stroke="#747474" stroke-width="1.0"/>
<line x1="492.5" y1="418" x2="535.5" y2="372" stroke="#747474" stroke-width="1.0"/>
<line x1="530.7" y1="303.3" x2="713.9" y2="300.7" stroke="#747474" stroke-width="1.0"/>
<line x1="576.5" y1="302.5" x2="576.5" y2="435.5" stroke="#747474" stroke-width="1.0"/>
<line x1="622.1" y1="302.5" x2="622.1" y2="435.5" stroke="#747474" stroke-width="1.0"/>
<line x1="667.6" y1="302.5" x2="667.6" y2="435.5" stroke="#747474" stroke-width="1.0"/>
<line x1="713.9" y1="300.7" x2="712.9" y2="435.9" stroke="#747474" stroke-width="1.0"/>
<line x1="539.8" y1="435" x2="712.9" y2="435.9" stroke="#747474" stroke-width="1.0"/>
<line x1="497.7" y1="508.2" x2="539.8" y2="435" stroke="#747474" stroke-width="1.0"/>
<line x1="712.9" y1="435.9" x2="737.8" y2="507.6" stroke="#747474" stroke-width="1.0"/>
<line x1="530.9" y1="450.1" x2="717.8" y2="450.1" stroke="#747474" stroke-width="1.0"/>
<line x1="520.9" y1="467.5" x2="723.9" y2="467.5" stroke="#747474" stroke-width="1.0"/>
<line x1="510.1" y1="486.4" x2="730.4" y2="486.4" stroke="#747474" stroke-width="1.0"/>
<line x1="576.5" y1="435.5" x2="556.9" y2="507.6" stroke="#747474" stroke-width="1.0"/>
<line x1="622.1" y1="435.5" x2="617.1" y2="507.6" stroke="#747474" stroke-width="1.0"/>
<line x1="667.6" y1="435.5" x2="678" y2="507.6" stroke="#747474" stroke-width="1.0"/>
</g>
<g stroke="#7cc935" fill="none" stroke-linecap="round">
<path d="M508,383 L510,402 L514,398 L516,383 Z" fill="#7cc935" stroke="none"/>
<line x1="716" y1="384" x2="716.3" y2="392" stroke-width="1.0" opacity="0.9"/>
<line x1="719.5" y1="384" x2="719.8" y2="396" stroke-width="1.2" opacity="0.9"/>
<line x1="723" y1="384" x2="723.3" y2="401" stroke-width="1.5" opacity="0.9"/>
<line x1="726.5" y1="384" x2="726.8" y2="397" stroke-width="1.2" opacity="0.9"/>
<line x1="729.5" y1="384" x2="729.8" y2="405" stroke-width="1.6" opacity="0.9"/>
<line x1="732.5" y1="384" x2="732.8" y2="399" stroke-width="1.3" opacity="0.9"/>
<line x1="735.5" y1="384" x2="735.8" y2="403" stroke-width="1.4" opacity="0.9"/>
<line x1="738.5" y1="384" x2="738.8" y2="394" stroke-width="1.0" opacity="0.9"/>
</g>
<polygon points="541.9,383.0 543.0,385.4 542.6,388.2 544.5,390.4 544.4,393.1 545.9,395.3 546.0,398.0 547.1,400.3 546.9,403.0 548.8,405.1 549.0,407.7 550.1,410.0 550.9,412.5 551.6,414.9 552.4,417.3 553.9,419.5 554.3,422.3 556.4,424.3 557.0,427.0 559.1,429.4 561.1,431.8 562.3,434.7 564.5,436.8 566.2,439.3 567.6,442.0 570.0,444.0 572.1,445.5 574.3,446.8 576.1,448.6 577.4,451.0 579.8,452.1 583.1,452.5 586.0,454.0 588.0,455.6 590.2,456.7 592.2,458.3 593.3,461.0 594.9,463.3 596.0,466.0 597.6,468.6 599.7,470.8 601.8,468.9 604.0,467.0 606.8,466.6 609.6,465.8 611.5,467.9 614.0,469.0 616.8,470.0 619.6,470.8 620.8,468.5 622.3,466.5 624.9,465.3 626.0,463.0 628.1,461.2 630.0,459.1 632.8,458.1 634.5,455.8 637.0,455.0 639.6,454.2 642.0,453.0 644.7,451.9 646.8,449.7 649.4,448.4 651.7,447.4 654.4,447.2 656.4,445.4 659.0,445.0 661.7,444.0 663.9,441.8 666.8,441.3 669.3,439.7 672.0,441.1 675.0,442.0 679.3,440.9 682.0,439.0 684.1,436.6 686.0,434.0 687.9,431.7 689.5,429.2 691.7,427.2 692.6,424.4 694.4,422.1 695.7,419.6 697.0,417.0 697.6,414.3 699.9,412.4 700.5,409.7 701.7,407.3 702.8,404.7 703.0,401.9 703.9,399.2 704.5,396.4 706.0,394.0 706.6,391.2 707.2,388.4 708.2,385.7 709.1,383.0 706.6,383.2 704.0,382.5 701.5,382.5 699.0,383.5 696.4,383.1 693.9,383.5 691.4,382.8 688.8,382.3 686.3,383.4 683.8,382.6 681.2,383.3 678.7,383.7 676.2,382.6 673.6,383.2 671.1,383.5 668.6,383.1 666.0,383.4 663.5,383.1 661.0,383.1 658.4,383.1 655.9,382.9 653.4,383.3 650.8,383.6 648.3,383.6 645.8,383.6 643.2,383.0 640.7,383.2 638.2,382.6 635.6,383.0 633.1,382.7 630.6,382.3 628.0,383.6 625.5,383.7 623.0,383.5 620.4,383.2 617.9,382.9 615.4,382.7 612.8,383.2 610.3,382.3 607.8,383.7 605.2,382.5 602.7,383.4 600.2,382.5 597.6,383.7 595.1,382.3 592.6,382.6 590.0,382.3 587.5,382.9 585.0,383.5 582.4,382.3 579.9,383.1 577.4,383.6 574.8,382.9 572.3,383.0 569.8,383.0 567.2,383.5 564.7,383.5 562.2,382.9 559.6,383.1 557.1,383.5 554.6,383.1 552.0,382.7 549.5,382.7 547.0,383.0 544.4,383.1" fill="url(#pit2)"/>
<linearGradient id="dots2" gradientUnits="userSpaceOnUse" x1="0" y1="385" x2="0" y2="470"><stop offset="0" stop-color="#d4f4a0"/><stop offset="0.45" stop-color="#c8eea0"/><stop offset="0.6" stop-color="#a0b6f0"/><stop offset="1" stop-color="#8c9ae6"/></linearGradient>
<g stroke="url(#dots2)" stroke-width="0.75" stroke-dasharray="1.4 1.8" opacity="0.55">
<line x1="574.9" y1="393.2" x2="574.9" y2="410.0"/>
<line x1="578.7" y1="388.1" x2="578.7" y2="412.1"/>
<line x1="581.8" y1="389.1" x2="581.8" y2="414.2"/>
<line x1="584.2" y1="388.6" x2="584.2" y2="410.2"/>
<line x1="587.4" y1="394.3" x2="587.4" y2="422.8"/>
<line x1="589.3" y1="391.3" x2="589.3" y2="407.6"/>
<line x1="593.0" y1="400.9" x2="593.0" y2="426.7"/>
<line x1="596.5" y1="393.4" x2="596.5" y2="422.3"/>
<line x1="598.2" y1="392.1" x2="598.2" y2="419.6"/>
<line x1="602.5" y1="393.9" x2="602.5" y2="409.7"/>
<line x1="604.5" y1="390.9" x2="604.5" y2="410.6"/>
<line x1="608.6" y1="390.8" x2="608.6" y2="422.5"/>
<line x1="611.8" y1="388.8" x2="611.8" y2="410.3"/>
<line x1="614.0" y1="388.3" x2="614.0" y2="410.8"/>
<line x1="617.8" y1="389.6" x2="617.8" y2="415.5"/>
<line x1="619.2" y1="396.1" x2="619.2" y2="428.0"/>
<line x1="622.4" y1="388.1" x2="622.4" y2="403.8"/>
<line x1="626.1" y1="388.2" x2="626.1" y2="403.9"/>
<line x1="629.0" y1="400.9" x2="629.0" y2="423.3"/>
<line x1="631.8" y1="396.9" x2="631.8" y2="412.8"/>
<line x1="635.2" y1="390.4" x2="635.2" y2="416.6"/>
<line x1="638.9" y1="388.8" x2="638.9" y2="413.9"/>
<line x1="641.2" y1="390.1" x2="641.2" y2="409.5"/>
<line x1="645.0" y1="402.0" x2="645.0" y2="418.4"/>
<line x1="647.4" y1="401.3" x2="647.4" y2="420.0"/>
<line x1="650.2" y1="388.6" x2="650.2" y2="409.9"/>
<line x1="653.3" y1="396.3" x2="653.3" y2="425.8"/>
<line x1="655.2" y1="392.9" x2="655.2" y2="424.1"/>
<line x1="659.2" y1="394.3" x2="659.2" y2="416.4"/>
<line x1="663.0" y1="396.0" x2="663.0" y2="410.4"/>
<line x1="665.6" y1="392.6" x2="665.6" y2="415.3"/>
<line x1="667.4" y1="394.2" x2="667.4" y2="414.7"/>
<line x1="670.2" y1="396.8" x2="670.2" y2="412.9"/>
<line x1="674.6" y1="388.4" x2="674.6" y2="418.0"/>
<line x1="677.6" y1="395.0" x2="677.6" y2="423.2"/>
<line x1="679.5" y1="398.3" x2="679.5" y2="420.8"/>
<line x1="682.5" y1="401.5" x2="682.5" y2="423.5"/>
<line x1="685.7" y1="400.0" x2="685.7" y2="421.4"/>
<line x1="689.3" y1="390.4" x2="689.3" y2="421.3"/>
<line x1="691.5" y1="388.7" x2="691.5" y2="422.2"/>
<line x1="584.3" y1="433.5" x2="584.3" y2="448.9"/>
<line x1="588.8" y1="424.1" x2="588.8" y2="430.7"/>
<line x1="591.6" y1="427.9" x2="591.6" y2="440.0"/>
<line x1="596.7" y1="427.5" x2="596.7" y2="435.0"/>
<line x1="599.5" y1="425.4" x2="599.5" y2="432.2"/>
<line x1="603.1" y1="431.0" x2="603.1" y2="437.6"/>
<line x1="606.5" y1="431.0" x2="606.5" y2="444.7"/>
<line x1="610.0" y1="432.9" x2="610.0" y2="440.6"/>
<line x1="614.2" y1="431.7" x2="614.2" y2="446.5"/>
<line x1="617.4" y1="425.0" x2="617.4" y2="431.5"/>
<line x1="621.1" y1="425.7" x2="621.1" y2="438.0"/>
<line x1="623.8" y1="431.8" x2="623.8" y2="440.0"/>
<line x1="627.2" y1="425.8" x2="627.2" y2="436.3"/>
<line x1="631.9" y1="427.9" x2="631.9" y2="435.6"/>
<line x1="635.4" y1="433.5" x2="635.4" y2="444.8"/>
<line x1="639.9" y1="424.3" x2="639.9" y2="440.2"/>
<line x1="643.4" y1="429.4" x2="643.4" y2="440.7"/>
<line x1="646.3" y1="433.1" x2="646.3" y2="439.8"/>
<line x1="650.1" y1="429.4" x2="650.1" y2="438.4"/>
<line x1="653.8" y1="431.2" x2="653.8" y2="438.2"/>
<line x1="657.4" y1="428.5" x2="657.4" y2="439.4"/>
<line x1="660.9" y1="424.5" x2="660.9" y2="436.6"/>
<line x1="663.9" y1="432.8" x2="663.9" y2="441.1"/>
<line x1="668.4" y1="431.3" x2="668.4" y2="443.5"/>
<line x1="672.2" y1="424.4" x2="672.2" y2="436.3"/>
<line x1="675.2" y1="430.8" x2="675.2" y2="440.8"/>
</g>
<polygon points="535.2,346.0 538.2,345.7 541.3,345.5 544.3,345.9 547.4,345.6 550.4,345.5 553.4,345.9 556.5,346.5 559.5,346.3 562.6,346.3 565.6,345.6 568.6,346.0 571.7,345.7 574.7,345.6 577.7,345.5 580.8,345.6 583.8,346.5 586.9,346.3 589.9,346.3 592.9,346.3 596.0,345.6 599.0,345.7 602.1,346.1 605.1,346.2 608.1,346.3 611.2,346.4 614.2,345.4 617.3,346.0 620.3,346.1 623.3,345.9 626.4,345.5 629.4,345.9 632.4,345.4 635.5,346.4 638.5,346.3 641.6,345.9 644.6,345.6 647.6,346.4 650.7,346.0 653.7,346.3 656.8,346.3 659.8,345.9 662.8,345.8 665.9,346.0 668.9,345.8 672.0,345.4 675.0,345.6 678.0,346.2 681.1,345.3 684.1,345.3 687.1,346.0 690.2,345.6 693.2,345.9 696.3,345.8 699.3,345.6 702.3,346.4 705.4,345.4 708.4,345.7 711.5,345.4 714.5,345.8 716.2,348.4 718.4,350.7 720.1,353.3 721.5,356.2 723.8,358.4 725.4,361.1 726.8,363.9 729.4,365.9 731.3,368.4 733.0,371.1 734.3,374.0 736.2,376.4 738.4,378.7 740.1,381.3 741.8,384.0 741.5,385.0 738.3,385.3 735.0,385.0 731.8,385.4 728.5,384.6 725.3,384.3 722.1,384.2 718.8,384.4 715.6,384.1 712.3,385.2 709.1,384.6 706.1,384.9 703.0,384.0 700.0,384.3 696.9,384.7 693.9,384.1 690.9,384.5 687.8,384.2 684.8,384.8 681.7,385.0 678.7,384.7 675.7,385.0 672.6,384.7 669.6,384.0 666.5,384.8 663.5,385.2 660.5,385.1 657.4,385.0 654.4,384.3 651.3,384.8 648.3,384.9 645.3,385.1 642.2,384.0 639.2,384.7 636.1,385.0 633.1,385.1 630.1,385.1 627.0,385.0 624.0,384.4 620.9,385.0 617.9,385.2 614.9,384.6 611.8,384.9 608.8,384.0 605.7,385.1 602.7,384.6 599.7,384.3 596.6,384.7 593.6,384.0 590.5,384.6 587.5,384.9 584.5,384.7 581.4,385.2 578.4,384.7 575.3,384.9 572.3,384.1 569.3,384.2 566.2,384.6 563.2,385.2 560.1,384.9 557.1,384.9 554.1,385.0 551.0,384.9 548.0,384.2 544.9,385.0 541.9,384.6 538.8,385.0 535.9,383.8 532.8,384.1 529.8,383.5 526.7,384.1 523.7,383.3 520.7,383.5 517.7,383.2 514.6,383.1 511.6,383.3 508.6,383.7 505.5,383.4 502.5,382.5 499.5,382.3 496.5,382.1 493.4,382.7 490.4,382.4 490.4,380.6 493.0,378.8 495.6,377.0 498.0,375.0 500.6,373.2 502.9,371.0 505.4,369.2 508.0,367.3 510.1,365.0 513.1,363.7 515.6,361.8 517.5,359.1 520.6,358.0 523.1,356.0 525.4,353.8 527.4,351.3 530.5,350.2 532.4,347.6" fill="url(#surf2)"/>
<path d="M535.7,346.5 L538.7,344.9 L541.7,345.6 L544.7,344.9 L547.7,345.6 L550.7,344.9 L553.7,345.6 L556.7,344.9 L559.7,345.6 L562.7,344.9 L565.7,345.6 L568.7,344.9 L571.7,345.6 L574.7,344.9 L577.7,345.6 L580.7,344.9 L583.7,345.6 L586.7,344.9 L589.7,345.6 L592.7,343.3 L595.7,345.6 L598.7,344.9 L601.7,345.6 L604.7,344.9 L607.7,345.6 L610.7,344.9 L613.7,345.6 L616.7,344.9 L619.7,345.6 L622.7,344.9 L625.7,345.6 L628.7,344.9 L631.7,345.6 L634.7,344.9 L637.7,345.6 L640.7,344.9 L643.7,345.6 L646.7,343.3 L649.7,345.6 L652.7,344.9 L655.7,345.6 L658.7,343.3 L661.7,345.6 L664.7,344.9 L667.7,345.6 L670.7,344.9 L673.7,345.6 L676.7,344.9 L679.7,345.6 L682.7,344.9 L685.7,345.6 L688.7,344.9 L691.7,345.6 L694.7,344.9 L697.7,345.6 L700.7,344.9 L703.7,345.6 L706.7,344.9 L709.7,345.6 L712.7,344.9 L714.5,346.3 Z" fill="#7ccb33"/>
<g opacity="0.4"><rect x="581" y="354" width="95" height="18" fill="#8ad444" filter="url(#blur2)"/></g>
<path d="M578.4,351 V373.5 H640" fill="none" stroke="#4f9e36" stroke-width="0.7" opacity="0.65"/>
<rect x="575.9" y="350" width="1" height="5" fill="#3f7a2a"/><rect x="621.5" y="350" width="1" height="6" fill="#3f7a2a"/>
<g stroke="#1a1a1a" fill="#1a1a1a">
<line x1="497.7" y1="508.2" x2="485.6" y2="317" stroke-width="1.5"/>
<polygon points="484.8,305.4 481.6,318.6 489.4,318" stroke="none"/>
<line x1="497.2" y1="507.6" x2="748" y2="507.6" stroke-width="1.5"/>
<polygon points="760.2,507.6 746,503.9 746,511.3" stroke="none"/>
</g>
<polygon points="448.8,325.6 473.7,325.6 485.6,507.8 462.6,507.8" fill="url(#cbar)"/>
<g stroke="#1a1a1a" stroke-width="1.1">
<line x1="447.2" y1="328.5" x2="461.3" y2="507.8"/>
<line x1="444.2" y1="329" x2="447.3" y2="329"/>
<line x1="447.5" y1="367" x2="450.4" y2="367"/>
<line x1="449.8" y1="404" x2="453.1" y2="404"/>
<line x1="453.3" y1="439.5" x2="456.2" y2="439.5"/>
<line x1="455.9" y1="473.9" x2="458.8" y2="473.9"/>
<line x1="458.3" y1="507.2" x2="461.3" y2="507.2"/>
</g>
<g font-size="18.5" fill="#1a1a1a">
<text x="437.9" y="335.7" text-anchor="end">204.933</text>
<text x="441.9" y="370.4" text-anchor="end">168.948</text>
<text x="443" y="410.2" text-anchor="end">122.960</text>
<text x="448" y="446" text-anchor="end">81.973</text>
<text x="451.6" y="478" text-anchor="end">40.987</text>
<text x="454.1" y="512.3" text-anchor="end">0</text>
<text x="715.7" y="308.4">204.933</text><text x="692.3" y="379.7">102.488</text>
</g><g font-size="18.5" fill="#1a1a1a">
<text x="509.5" y="504.2">319</text>
<text x="516" y="484.6">639</text>
<text x="526.6" y="465.8">959</text>
<text x="535.7" y="448.6" word-spacing="-1.5">1 279</text>
<path d="M537.6,435.2 L539.6,432 L541.4,435 L539.6,434.2 Z" fill="#1a1a1a"/>
<text x="497.7" y="526.3" text-anchor="middle">0</text>
<text x="558.6" y="526.3" text-anchor="middle">320</text>
<text x="620.8" y="526.3" text-anchor="middle">640</text>
<text x="683" y="526.3" text-anchor="middle">960</text>
<text x="745.2" y="526.3" text-anchor="middle" word-spacing="-1.5">1 280</text>
<text x="476.5" y="301" font-style="italic" font-size="19.2">Z</text><text x="774.5" y="514.5" font-style="italic" font-size="19.2">X</text>
</g>
</g><g id="chart">
<g stroke="#1a1a1a" stroke-width="1.4" fill="none">
<path d="M872.9,123.6 V398.9 H1250.7"/>
<line x1="872.9" y1="220.7" x2="879.2" y2="220.7"/>
<line x1="872.9" y1="309.4" x2="879.2" y2="309.4"/>
<line x1="998.6" y1="398.9" x2="998.6" y2="392"/>
<line x1="1124.5" y1="398.9" x2="1124.5" y2="392"/>
<line x1="1250" y1="398.9" x2="1250" y2="392"/>
</g>
<polyline points="873,131.5 876,131.8 880,130.6 884,128 886,126.8 888,129 891,129.4 895,129.8 899,130 903,129.6 905.5,127.6 909,128.4 912,127.8 915,128.6 918,129 921,130.6 924,130.8 927,129.4 930,128.6 933,129 936,130.8 939,129.6 942,130 945,131.6 948,130.6 951,128.2 954,128.6 957,128.2 960,128.8 963,128.4 967.1,128.9 969,138 971.8,156.7 973.5,168 975.5,181 977.4,207.1 977.8,221.2 978.7,232.4 981.1,240.4 985.2,239.5 988,239.9 990.8,243.6 994,248.3 996.4,258.5 998.3,269.7 1000.2,284.7 1002,303.4 1004,323.6 1005.9,342.3 1007.7,354.4 1010.5,361.9 1013.3,365.6 1017.1,363.7 1019.9,368.4 1023.6,375.9 1027.3,383.4 1030.1,391.8 1033.9,399.2 1037.6,401.7 1040.4,401.7 1043.2,397.4 1046,394.6 1049.7,393.6 1052.5,387.1 1056.3,379.6 1060,372.1 1062.8,364.7 1064.7,357.2 1065.6,346 1066.6,336.7 1068.4,327.3 1071.2,316.1 1074,308.7 1076.8,301.2 1079.6,292.8 1082.4,292.8 1084.3,291.9 1086.1,282.8 1089.9,273.5 1093.6,260.4 1097.3,243.6 1100.1,228.7 1102.9,192.2 1105.7,147.3 1107.6,133.3 1112.3,132 1121.6,131.5 1124.4,133.3 1128.1,135.2 1131.9,132.4 1134.7,133.9 1139.3,132.8 1144,136.1 1149.6,133.9 1155.2,133.3 1160.8,137.1 1166.4,135.8 1172,135.2 1179.5,136.1 1187,137.1 1190.7,135.8 1194.8,135.8" fill="none" stroke="#e6141e" stroke-width="1.6" stroke-linejoin="round" stroke-linecap="round"/>
<polyline points="873,124 873.6,131.5 874.5,126 875.5,130.8 877,131.2 878.5,127 879.8,129.2 881,128.2 882.5,130.3 884,129.2 886,128.4 888,127.6 890,128.5 892,127.9 894,130.3 895.5,131.2 897,128 898.3,127.8 899.3,130.2 900.8,128.8 903.6,136.1 905.5,149 907.3,162.3 909.2,184.7 911.1,205.2 912.4,210 914.3,220.3 917.1,221.2 918.9,238 920.8,258.5 922.7,279.1 925.5,288.4 928.3,289.4 930.7,294 932.9,308 934.8,295.9 937.6,292.2 940.4,286.2 942.3,292.2 944.5,291.2 946.4,282.4 948.8,287.5 951.6,295.9 953.5,297.8 955.3,316.4 957.2,317.4 959.1,324.8 961.9,314.6 964.7,313.6 967.5,311.8 969.9,307.1 973.1,306.2 975,309 976.8,315.5 979.6,316.4 981.9,323 984.3,312.7 986.2,306.2 988.6,314.6 990.4,316.4 992.7,304.3 994.9,306.2 997.4,299.2 1000.2,303.4 1002,301.1 1004.3,301.1 1006.7,288.4 1008.6,281.5 1011.4,284.7 1014.2,289.4 1017,287.5 1018.8,293.1 1020.8,301.2 1023.6,314.3 1025.8,315.2 1028.3,302.1 1030.7,301.2 1032.6,314.3 1034.8,338.5 1036.7,359.1 1040,354.4 1043.2,362.8 1045.6,359.1 1048.8,366.2 1050.7,358.1 1053.9,354.4 1055.7,336.7 1057.2,324.5 1059.5,329.2 1061.9,330.1 1064.7,339.5 1068.4,341.3 1072.2,344.7 1075,340.8 1077.8,344.7 1080.6,340 1083.4,346.9 1086.2,337.6 1088.6,325.8 1090.8,332.9 1093.1,332.6 1094.9,321.7 1096.8,309.2 1099.6,323 1103.9,316.4 1107.6,301.5 1111.3,285.6 1114.1,295.9 1118.8,295 1121.2,278.1 1123.9,281.9 1126.3,275.3 1129.1,276.3 1131,282.8 1133.2,292.2 1134.7,301.5 1136.5,309.9 1138.4,306.2 1140,322 1141.4,338.7 1143.1,312 1145.3,283.9 1147.7,310 1149.8,335 1151.7,358.9 1154.1,340.2 1156,288 1156.9,277.7 1157.8,289.9 1159.3,267.5 1159.9,247.3 1161.8,224.9 1162.7,220.2 1164.2,199.6 1165.5,184.7 1166.4,171.6 1168.3,160.4 1170.2,143.6 1171.7,132.4 1173.9,132 1176.7,133.9 1179.5,132 1181.7,130.5 1183.6,133.3 1185.5,130.9 1187.9,134.3 1189.8,132.4 1192.2,136.7 1194.8,133.3" fill="none" stroke="#1c1c1c" stroke-width="1.55" stroke-linejoin="round" stroke-linecap="round"/>
<line x1="980.5" y1="119.3" x2="1020" y2="119.3" stroke="#e6141e" stroke-width="1.3"/>
<line x1="981" y1="140.6" x2="1019.8" y2="140.6" stroke="#1c1c1c" stroke-width="1.3"/>
<g font-size="18.5">
<text x="1023.8" y="124.3" fill="#e6141e" font-size="18.7">HIFU+ECM</text>
<text x="1023.8" y="145.5" fill="#1a1a1a" font-size="18.7">ECM</text>
<g fill="#1a1a1a">
<text x="864.4" y="137.3" text-anchor="end">0</text>
<text x="864.4" y="226.9" text-anchor="end">−50</text>
<text x="864.4" y="315.6" text-anchor="end">−100</text>
<text x="864.4" y="405" text-anchor="end">−150</text>
<text x="872.9" y="420" text-anchor="middle">0</text><text x="998.6" y="420" text-anchor="middle">500</text>
<text x="1124.5" y="420" text-anchor="middle" word-spacing="-0.4">1 000</text><text x="1250" y="420" text-anchor="middle" word-spacing="-0.4">1 500</text>
<text x="1027.6" y="442.2" font-size="18.5"><tspan font-size="19.3" font-weight="500">位置</tspan>/μm</text>
<text transform="translate(813.3,294.2) rotate(-90)" font-size="18.5"><tspan font-size="19.3" font-weight="500">深度</tspan>/μm</text>
</g></g></g>
<g fill="#1a1a1a" font-size="18.3" font-weight="500">
<text y="558.6"><tspan x="95.6">（</tspan><tspan x="114.5" font-weight="400">a</tspan><tspan x="124.1">）</tspan><tspan x="141.1" font-size="18.5">电子显微镜形貌</tspan></text>
<text y="558.6"><tspan x="500.1">（</tspan><tspan x="519.0" font-weight="400">b</tspan><tspan x="529.65">）</tspan><tspan x="546.65" font-size="18.5">激光共聚焦显微镜形貌</tspan></text>
<text y="558.6"><tspan x="946.6">（</tspan><tspan x="965.5" font-weight="400">c</tspan><tspan x="975.1">）</tspan><tspan x="992.1" font-size="18.5">加工深度效果对比图</tspan></text>
</g>
<text y="605.8" font-size="21.2" font-weight="bold" fill="#111"><tspan x="434.4" y="606.6" font-size="20.8" font-weight="900" stroke="#111" stroke-width="0.3">图</tspan><tspan x="461.3" y="605.8">8</tspan><tspan x="483.4">HIFU+ECM</tspan><tspan x="602.2" y="606.6" font-size="20.8" font-weight="900" stroke="#111" stroke-width="0.3">与</tspan><tspan x="629.9" y="605.8">ECM</tspan><tspan x="684.4" y="606.6" font-size="20.8" font-weight="900" letter-spacing="1.65" stroke="#111" stroke-width="0.3">加工效果对比图</tspan></text>
<text x="336.8" y="637.1" font-size="21.22" fill="#1a1a1a">Fig. 8  Comparison of the processing effects of HIFU+ECM and ECM</text></svg></body></html>
